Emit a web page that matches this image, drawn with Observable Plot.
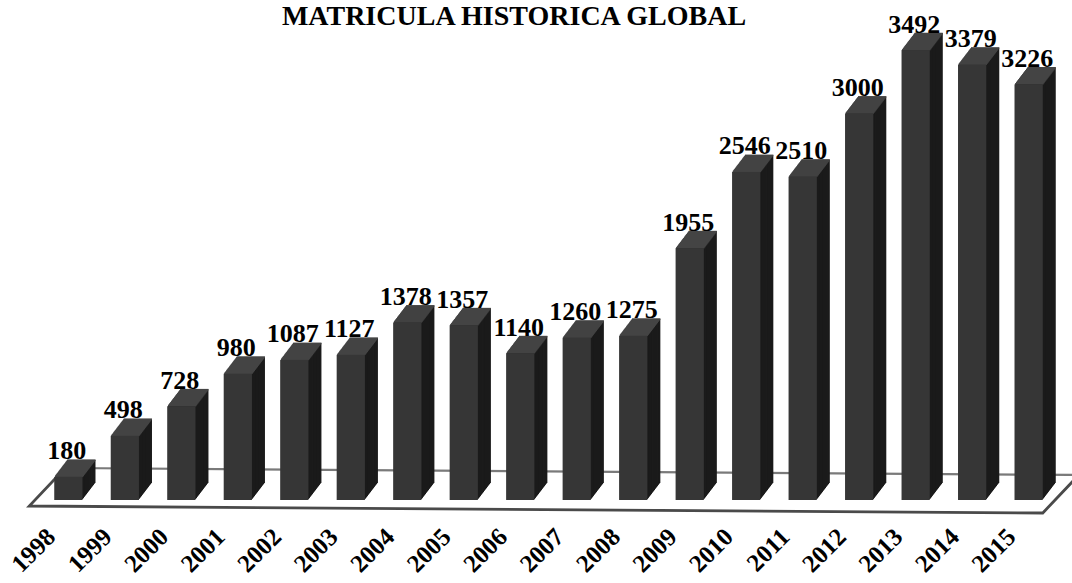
<!DOCTYPE html>
<html>
<head>
<meta charset="utf-8">
<script src="https://cdn.jsdelivr.net/npm/d3@7"></script>
<script src="https://cdn.jsdelivr.net/npm/@observablehq/plot@0.6"></script>
<style>
  html, body { margin: 0; padding: 0; background: #fff; }
  #wrap { position: relative; width: 1072px; height: 583px; overflow: hidden; }
  #title { position: absolute; left: 0; top: 0; width: 1028px; text-align: center;
           font: bold 28px/32px "Liberation Serif", serif; color: #000; z-index: 2; }
  svg text { font-weight: bold; }
</style>
</head>
<body>
<div id="wrap">
  <div id="title"></div>
  <div id="chart"></div>
</div>
<script>
const title = "MATRICULA HISTORICA GLOBAL";
const years = ["1998","1999","2000","2001","2002","2003","2004","2005","2006","2007","2008","2009","2010","2011","2012","2013","2014","2015"];
const values = [180,498,728,980,1087,1127,1378,1357,1140,1260,1275,1955,2546,2510,3000,3492,3379,3226];

const data = years.map((year, i) => ({year, value: values[i]}));
document.getElementById("title").textContent = title;

const DX = 13, DY = 17;
const sideLayers = d3.range(DY, 0, -1).map(k =>
  Plot.barY(data, {x: "year", y: "value", fill: "#1b1b1b", dx: k * DX / DY, dy: -k}));
const topLayers = d3.range(1, DY + 1).map(k =>
  Plot.tickY(data, {x: "year", y: "value", stroke: "#444444", strokeWidth: 1.6, dx: k * DX / DY, dy: -k}));

function floorMark(index, scales, values, dimensions) {
  const x = scales.x, y = scales.y;
  const bw = x.bandwidth ? x.bandwidth() : 28;
  const y0 = y(0);
  const fl = x(years[0]) - 25, fr = x(years[years.length - 1]) + bw;
  const depthX = 36, depthY = 38, tilt = 7;
  const pFL = [fl, y0 + 6], pFR = [fr, y0 + 6 + tilt];
  const pBL = [fl + depthX, y0 + 6 - depthY], pBR = [fr + depthX, y0 + 6 + tilt - depthY];
  const g = d3.create("svg:g").attr("fill", "none").attr("stroke-linecap", "round");
  g.append("path").attr("d", d3.line()([pBL, pBR])).attr("stroke", "#7a7a7a").attr("stroke-width", 2.2);
  g.append("path").attr("d", d3.line()([pBL, pFL, pFR, pBR])).attr("stroke", "#4a4a4a").attr("stroke-width", 2.8);
  return g.node();
}

const chart = Plot.plot({
  width: 1072,
  height: 583,
  marginLeft: 26,
  marginRight: 1,
  marginTop: 49,
  marginBottom: 83,
  style: {fontFamily: "'Liberation Serif', serif", background: "#fff", overflow: "visible"},
  x: {domain: years, padding: 0.5, round: false, axis: null},
  y: {domain: [0, 3500], axis: null},
  marks: [
    floorMark,
    ...sideLayers,
    ...topLayers,
    Plot.barY(data, {x: "year", y: "value", fill: "#363636"}),
    Plot.text(data, {x: "year", y: "value", text: d => String(d.value), dx: -2, dy: -DY - 1,
                     lineAnchor: "bottom", fontSize: 26, fontWeight: "bold", fill: "#000"}),
    Plot.text(years, {x: d => d, frameAnchor: "bottom", rotate: -45, textAnchor: "end",
                      dx: -12, dy: 38, fontSize: 25, fontWeight: "bold", fill: "#000"})
  ]
});
document.getElementById("chart").appendChild(chart);
</script>
</body>
</html>
